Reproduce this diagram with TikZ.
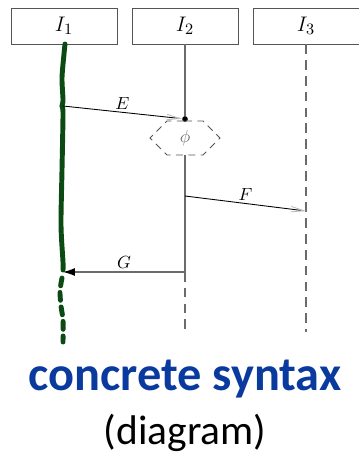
\documentclass[tikz,border=0pt]{standalone}
\usepackage{fontspec}
\setmainfont{Carlito}
\usepackage{xcolor}
\definecolor{SeqGreen}{HTML}{0B4A12}
\definecolor{SeqGray}{HTML}{6B6B6B}
\definecolor{SeqFrame}{HTML}{555555}
\definecolor{SyntaxBlue}{HTML}{0A3A9E}
\usetikzlibrary{arrows.meta,shapes.symbols,calc}
\tikzset{
  instbox/.style={draw=SeqFrame,fill=white,minimum width=2.12cm,minimum height=0.72cm,inner sep=0pt,font=\fontsize{13pt}{15pt}\selectfont},
  lifeline/.style={draw=SeqGray,line width=0.6pt},
  lifedash/.style={draw=SeqGray,line width=0.6pt,dash pattern=on 5.5pt off 3.5pt},
  greenlife/.style={draw=SeqGreen,line width=2.8pt,line cap=round},
  condbox/.style={signal,signal to=east and west,draw=SeqFrame,dash pattern=on 4pt off 3pt,line width=0.5pt,minimum width=1.4cm,minimum height=0.68cm,inner sep=0pt,text=SeqGray,font=\normalsize},
  dotmark/.style={circle,fill=black,inner sep=0pt,minimum size=3.2pt},
  msg/.style={-{Straight Barb[length=2.6mm,width=1.1mm,color=SeqGray!45]},draw=black,line width=0.5pt},
  msgback/.style={-{Latex[length=2.4mm,width=1.6mm,color=black]},draw=SeqGray,line width=0.6pt},
  msglabel/.style={font=\normalsize,inner sep=1.5pt}
}
\begin{document}
\begin{tikzpicture}[x=0.02cm,y=-0.02cm]
  \useasboundingbox (0,0) rectangle (358,462);
  % instances
  \node[instbox] (I1) at (64,26) {$I_1$};
  \node[instbox] (I2) at (185,26) {$I_2$};
  \node[instbox] (I3) at (306,26) {$I_3$};
  % events on the lifelines
  \coordinate (e1) at (63,106);
  \node[dotmark] (edot) at (185,119) {};
  \node[condbox] (phi) at (185,138) {$\phi$};
  \coordinate (f1) at (185,196);
  \coordinate (f2) at (306,211);
  \coordinate (g1) at (185,272);
  \coordinate (g2) at (63,272);
  \coordinate (I2end) at (185,332);
  \coordinate (I3end) at (306,332);
  % lifelines
  \draw[greenlife] plot[smooth] coordinates {(65,44) (64,54) (62,78) (63,100) (62,106) (63,114) (62,170) (61,225) (63,262) (63,270)};
  \draw[greenlife,dash pattern=on 4.5pt off 3.8pt] plot[smooth] coordinates {(62,278) (60,291) (61,306) (63,320) (63,342)};
  \draw[lifeline] (I2.south) -- (edot);
  \draw[lifeline] (phi.south) -- (g1);
  \draw[lifedash] (g1) -- (I2end);
  \draw[lifedash] (I3.south) -- (I3end);
  % messages
  \draw[msg] (e1) -- node[msglabel,above] {$E$} (edot);
  \draw[msg] (f1) -- node[msglabel,above] {$F$} (f2);
  \draw[msgback] (g1) -- node[msglabel,above] {$G$} (g2);
  % caption
  \node[anchor=base,text=SyntaxBlue,font=\bfseries\fontsize{27.5pt}{30pt}\selectfont] (title) at (185,390) {concrete syntax};
  \node[anchor=base,font=\fontsize{23.6pt}{26pt}\selectfont] (subtitle) at (185,444) {(diagram)};
\end{tikzpicture}
\end{document}
